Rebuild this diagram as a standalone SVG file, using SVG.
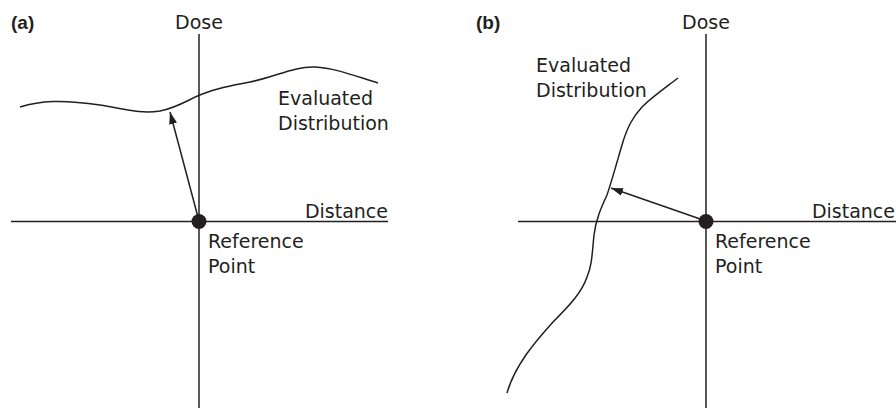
<svg xmlns="http://www.w3.org/2000/svg" width="896" height="408" viewBox="0 0 896 408">
<style>
.ax{stroke:#231f20;stroke-width:1.5;fill:none}
.cv{stroke:#231f20;stroke-width:1.5;fill:none}
.ar{stroke:#231f20;stroke-width:1.5;fill:none;marker-end:url(#ah)}
.t{font-family:"DejaVu Sans",Verdana,sans-serif;font-size:19px;fill:#231f20}
.b{font-family:"Liberation Sans",Arial,sans-serif;font-size:19px;font-weight:bold;fill:#231f20}
.dot{fill:#231f20}
</style>
<defs>
<marker id="ah" viewBox="0 0 12 8" refX="12" refY="4" markerWidth="12" markerHeight="8" markerUnits="userSpaceOnUse" orient="auto">
<path d="M0,0 L12,4 L0,8 Z" fill="#231f20"/>
</marker>
</defs>
<g id="panel-a">
<text class="b" x="11" y="29">(a)</text>
<g id="axes-a">
<line class="ax" x1="199" y1="34" x2="199" y2="408"/>
<line class="ax" x1="11" y1="221.5" x2="388" y2="221.5"/>
<text class="t" x="199" y="29" text-anchor="middle">Dose</text>
<text class="t" x="388" y="218" text-anchor="end">Distance</text>
</g>
<g id="curve-a">
<path class="cv" d="M20,107 C40,101 60,99 100,105 C125,109 140,114 160,111 C180,107 190,98 205,93 C218,88 228,86 250,82 C275,77 295,66 315,67 C335,68 355,76 378,83"/>
<text class="t" x="278" y="105">Evaluated</text>
<text class="t" x="278" y="130">Distribution</text>
</g>
<g id="ref-a">
<circle class="dot" cx="199" cy="221.5" r="7.5"/>
<text class="t" x="208" y="248">Reference</text>
<text class="t" x="208" y="273">Point</text>
</g>
<g id="connectors-a">
<line class="ar" x1="199" y1="221" x2="170" y2="112"/>
</g>
</g>
<g id="panel-b">
<text class="b" x="476" y="29">(b)</text>
<g id="axes-b">
<line class="ax" x1="706" y1="34" x2="706" y2="408"/>
<line class="ax" x1="518" y1="221.5" x2="896" y2="221.5"/>
<text class="t" x="706" y="29" text-anchor="middle">Dose</text>
<text class="t" x="895" y="218" text-anchor="end">Distance</text>
</g>
<g id="curve-b">
<path class="cv" d="M678,78 C665,88 652,97 642,107 C632,118 627,128 622,145 C617,162 612,180 607,195 C600,210 596,220 594,235 C592,255 592,265 587,277 C582,292 570,305 553,322 C535,342 515,365 507,393"/>
<text class="t" x="536" y="72">Evaluated</text>
<text class="t" x="536" y="97">Distribution</text>
</g>
<g id="ref-b">
<circle class="dot" cx="706" cy="221.5" r="7.5"/>
<text class="t" x="715" y="248">Reference</text>
<text class="t" x="715" y="273">Point</text>
</g>
<g id="connectors-b">
<line class="ar" x1="706" y1="221" x2="611" y2="188"/>
</g>
</g>
</svg>
